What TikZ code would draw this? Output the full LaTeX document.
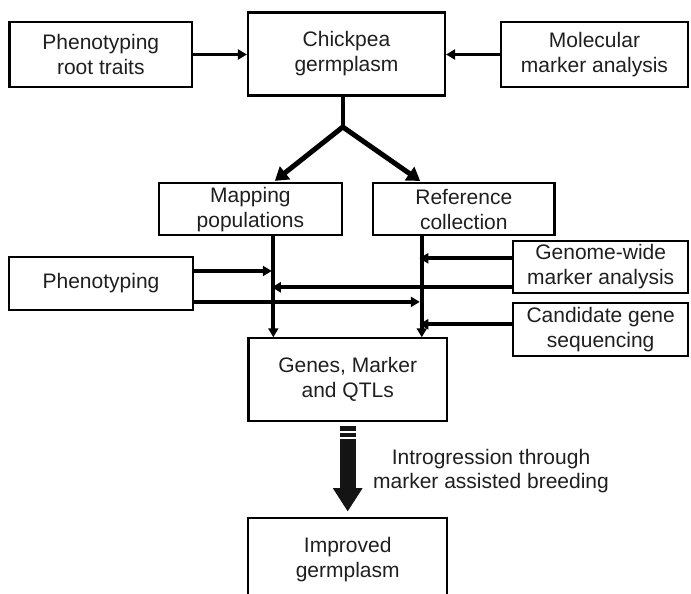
\documentclass[tikz,border=0pt]{standalone}
\usepackage{fontspec}
\setmainfont{Liberation Sans}
\usetikzlibrary{arrows.meta,calc}
\begin{document}
\begin{tikzpicture}[x=1pt,y=-1pt,
  box/.style={draw=black, line width=2.2pt, align=center, inner sep=0pt,
    font=\fontsize{21}{25}\selectfont, text=black!88},
  conn/.style={line width=3.8pt, -{Triangle[length=9pt,width=10pt]}},
  branch/.style={line width=5pt, -{Triangle[length=13pt,width=16pt]}}]
\useasboundingbox (0,0) rectangle (691,594);
\clip (0,0) rectangle (691,594);
% boxes
\node[box, minimum width=182.5pt, minimum height=65.5pt] (P1) at (100.8,54.5) {Phenotyping\\root traits};
\node[box, minimum width=197pt, minimum height=83pt] (C) at (346.5,54) {Chickpea\\germplasm};
\node[box, minimum width=187pt, minimum height=65.5pt] (M) at (594.5,54.5) {Molecular\\marker analysis};
\node[box, minimum width=183.5pt, minimum height=52pt] (MP) at (250.4,209.2) {Mapping\\populations};
\node[box, minimum width=181.5pt, minimum height=52pt] (R) at (463.8,209.2) {Reference\\collection};
\node[box, minimum width=183.4pt, minimum height=53.3pt] (P2) at (101,283.3) {Phenotyping};
\node[box, minimum width=174.7pt, minimum height=52pt] (G) at (600.7,266.7) {Genome-wide\\marker analysis};
\node[box, minimum width=174.7pt, minimum height=52.4pt] (CG) at (600.7,329.5) {Candidate gene\\sequencing};
\node[box, minimum width=198.5pt, minimum height=82.7pt] (GM) at (347.7,379.7) {Genes, Marker\\and QTLs};
\node[box, minimum width=198.7pt, minimum height=83pt] (I) at (347.7,559.5) {Improved\\germplasm};
\node[align=center, inner sep=0pt, font=\fontsize{21}{24}\selectfont, text=black!88] (T) at (491,471) {Introgression through\\marker assisted breeding};
% line positions
\coordinate (split) at (342.8,127);
\coordinate (L) at (273.3,0);
\coordinate (Rl) at (421.8,0);
% top arrows
\draw[conn] (P1.east) -- (P1.east -| C.west);
\draw[conn] (M.west) -- (M.west -| C.east);
% stem and branches
\draw[line width=3.5pt] (C.south -| split) -- (split);
\draw[branch, shorten >=2pt] (split) -- (MP.north -| L);
\draw[branch, shorten >=2pt] (split) -- (R.north -| Rl);
% vertical lines
\draw[conn] (MP.south -| L) -- (GM.north -| L);
\draw[conn] (R.south -| Rl) -- (GM.north -| Rl);
% horizontal inputs
\draw[conn, shorten >=1.5pt] ([yshift=12.3pt]P2.east) -- ([yshift=12.3pt]P2.east -| L);
\draw[conn, shorten >=-1.5pt] ([yshift=-20.6pt]G.west) -- ([yshift=-20.6pt]G.west -| L);
\draw[conn, shorten >=2pt] ([yshift=-18.6pt]P2.east) -- ([yshift=-18.6pt]P2.east -| Rl);
\draw[conn, shorten >=-2.5pt] ([yshift=8.4pt]G.west) -- ([yshift=8.4pt]G.west -| Rl);
\draw[conn, shorten >=-2.5pt] ([yshift=5.2pt]CG.west) -- ([yshift=5.2pt]CG.west -| Rl);
% big arrow
\draw[line width=16pt, -{Triangle[length=23.4pt,width=28pt]}, black!92] ([yshift=-4pt]GM.south) -- ([yshift=5.3pt]I.north);
\draw[white, line width=1.2pt] ([xshift=-9pt,yshift=-9.8pt]GM.south) -- ([xshift=9pt,yshift=-9.8pt]GM.south);
\draw[white, line width=1.2pt] ([xshift=-9pt,yshift=-15.8pt]GM.south) -- ([xshift=9pt,yshift=-15.8pt]GM.south);
\end{tikzpicture}
\end{document}
